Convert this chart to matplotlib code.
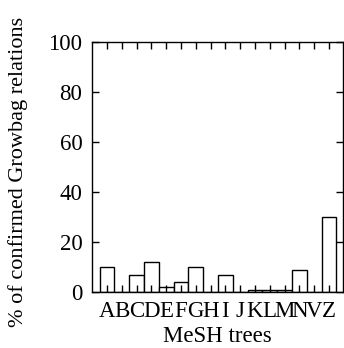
import matplotlib
matplotlib.use("Agg")
import matplotlib.pyplot as plt

categories = ["A", "B", "C", "D", "E", "F", "G", "H", "I", "J", "K", "L", "M", "N", "V", "Z"]
values = [10, 0, 7, 12, 2, 4, 10, 0, 7, 0, 1, 1, 1, 9, 0, 30]
yticks = [0, 20, 40, 60, 80, 100]

plt.rcParams['font.family'] = ['Liberation Serif', 'DejaVu Serif']
plt.rcParams['font.size'] = 16.5

fig = plt.figure(figsize=(3.44, 3.48), dpi=100)
ax = fig.add_axes([0.268, 0.1595, 0.729, 0.7190])
x = list(range(len(categories)))
ax.bar(x, values, width=1.0, color="white", edgecolor="black", linewidth=1.0)
ax.set_xlim(-1, len(categories) - 0.05)
ax.set_ylim(0, 100)
ax.set_xticks(x)
ax.set_xticklabels(categories)
ax.set_yticks(yticks)
ax.tick_params(direction="in", length=5, width=1, top=True, right=True, pad=7)
ax.tick_params(axis="x", pad=6)
for s in ax.spines.values():
    s.set_linewidth(1)
ax.set_xlabel("MeSH trees", labelpad=3)
ax.set_ylabel("% of confirmed Growbag relations", fontsize=16)
ax.yaxis.set_label_coords(-0.255, 0.48)
fig.savefig("out.png", dpi=100)
